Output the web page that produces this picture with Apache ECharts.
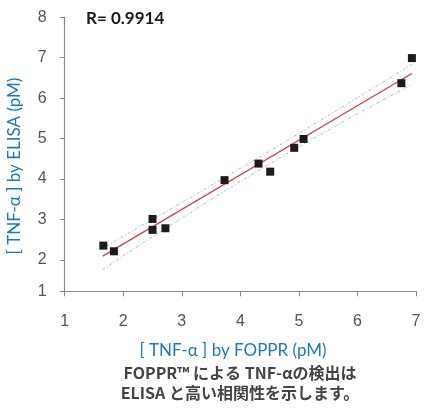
<!DOCTYPE html>
<html>
<head>
<meta charset="utf-8">
<script src="https://cdn.jsdelivr.net/npm/echarts@6/dist/echarts.min.js"></script>
<style>
html,body{margin:0;padding:0;background:#fff;}
#chart{width:430px;height:420px;}
</style>
</head>
<body>
<div id="chart"></div>
<script>
// Measured points: FOPPR (x) vs ELISA (y), pM
var xVals = [1.66, 1.84, 2.50, 2.50, 2.72, 3.73, 4.31, 4.51, 4.92, 5.08, 6.75, 6.93];
var yVals = [2.35, 2.21, 3.01, 2.74, 2.78, 3.97, 4.38, 4.18, 4.77, 4.99, 6.37, 6.99];
// Regression line
var fitX = [1.65, 6.93];
var fitY = [2.09, 6.61];
// Confidence band (upper / lower)
var upperX = [1.72, 4.30, 6.93];
var upperY = [2.35, 4.52, 6.84];
var lowerX = [1.65, 4.30, 6.93];
var lowerY = [1.76, 4.20, 6.34];
// Axis ticks
var xTicks = [1, 2, 3, 4, 5, 6, 7];
var rText = 'R= 0.9914';
var xTitle = '[ TNF-\u03b1 ] by FOPPR (pM)';
var yTitle = '[ TNF-\u03b1 ] by ELISA (pM)';
var caption1 = 'FOPPR\u2122 による TNF-\u03b1の検出は';
var caption2 = 'ELISA と高い相関性を示します。';

function pairs(xs, ys){ return xs.map(function(x,i){ return [x, ys[i]]; }); }

var chart = echarts.init(document.getElementById('chart'));
var blue = '#1f78b9';
var bandStyle = {color:'#9dbbdc', width:1, type:[3,2,1,2]};
chart.setOption({
  animation:false,
  grid:{left:64.7, right:14, top:17.3, bottom:128.7, containLabel:false},
  xAxis:{
    type:'value', min:xTicks[0], max:xTicks[xTicks.length-1], interval:1,
    axisLine:{show:true, onZero:false, lineStyle:{color:'#8a8a8a', width:1.2}},
    axisTick:{show:true, length:5, lineStyle:{color:'#8a8a8a'}},
    splitLine:{show:false},
    axisLabel:{color:'#555', fontSize:16, fontFamily:'Liberation Sans', margin:22}
  },
  yAxis:{
    type:'value', min:1.22, max:8, splitNumber:7,
    axisLine:{show:true, onZero:false, lineStyle:{color:'#8a8a8a', width:1.2}},
    axisTick:{show:true, length:5, lineStyle:{color:'#8a8a8a'}},
    splitLine:{show:false},
    axisLabel:{color:'#555', fontSize:16, fontFamily:'Liberation Sans', margin:18,
      showMinLabel:true, formatter:function(v){ return String(Math.round(v)); }}
  },
  series:[
    {type:'line', data:pairs(upperX, upperY), symbol:'none', smooth:true, lineStyle:bandStyle, z:2},
    {type:'line', data:pairs(lowerX, lowerY), symbol:'none', smooth:true, lineStyle:bandStyle, z:2},
    {type:'line', data:pairs(fitX, fitY), symbol:'none', lineStyle:{color:'#d2404a', width:1.3}, z:3},
    {type:'scatter', data:pairs(xVals, yVals), symbol:'rect', symbolSize:8,
      itemStyle:{color:'#1c1a1a', opacity:1}, z:4}
  ],
  graphic:[
    {type:'text', left:86, top:10, style:{text:rText, font:'bold 17px Lato', fill:'#1a1a1a'}},
    {type:'text', x:233, y:351, style:{text:xTitle, font:'17px Lato', fill:blue, textAlign:'center', textVerticalAlign:'middle'}},
    {type:'text', x:15, y:166, rotation:Math.PI/2, style:{text:yTitle, font:'17px Lato', fill:blue, textAlign:'center', textVerticalAlign:'middle'}},
    {type:'text', x:240, y:373, style:{text:caption1, font:'bold 16px "Noto Sans CJK JP"', fill:'#444', textAlign:'center', textVerticalAlign:'middle'}},
    {type:'text', x:240, y:393, style:{text:caption2, font:'bold 16px "Noto Sans CJK JP"', fill:'#444', textAlign:'center', textVerticalAlign:'middle'}}
  ]
});
</script>
</body>
</html>
